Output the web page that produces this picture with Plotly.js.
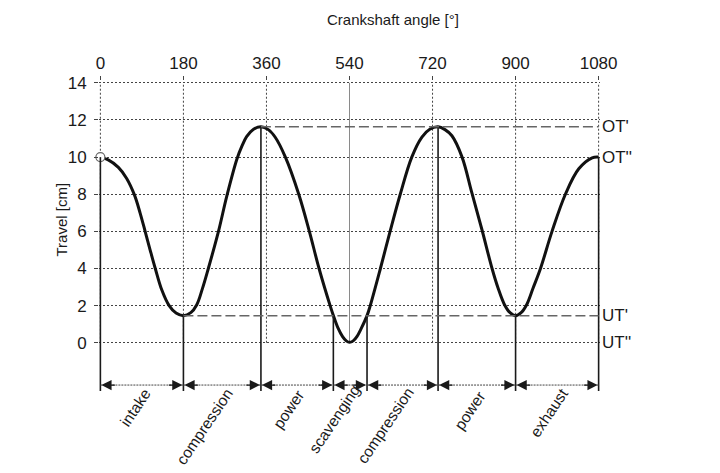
<!DOCTYPE html>
<html><head><meta charset="utf-8">
<script src="https://cdn.plot.ly/plotly-3.0.1.min.js"></script>
<style>html,body{margin:0;padding:0;background:#fff}#chart{width:720px;height:473px}</style>
</head><body><div id="chart"></div>
<script>
// ---- data ----
const angle  = [0, 17, 39, 57, 74, 86, 97, 108, 119, 133, 149, 164, 180, 196, 209, 221, 234, 256, 274, 296, 307, 317, 332, 348,
                364, 379, 401, 430, 453, 474, 498, 505, 515, 525, 533, 540, 548, 556, 566, 578, 585, 607, 628, 650, 675, 697, 714, 732,
                747, 762, 784, 805, 827, 849, 862, 876, 888, 900, 912, 924, 938, 954, 979, 1008, 1037, 1066, 1080];
const travel = [10.0, 9.85, 9.45, 8.85, 7.95, 7.0, 6.0, 4.98, 4.0, 2.85, 2.0, 1.6, 1.46, 1.62, 2.05, 2.9, 4.0, 6.0, 7.9, 9.9, 10.6, 11.1, 11.5, 11.63,
                11.48, 11.07, 10.0, 8.0, 6.0, 4.0, 2.0, 1.47, 0.8, 0.33, 0.1, 0.02, 0.1, 0.33, 0.8, 1.46, 2.0, 4.0, 6.0, 8.0, 10.0, 11.08, 11.5, 11.63,
                11.48, 11.15, 10.0, 8.1, 6.1, 4.0, 2.95, 2.05, 1.62, 1.46, 1.62, 2.05, 2.95, 4.0, 6.0, 8.0, 9.37, 9.96, 10.0];
const xTickVals = [0, 180, 360, 540, 720, 900, 1080];
const yTickVals = [0, 2, 4, 6, 8, 10, 12, 14];
const phaseBounds = [0, 180, 348, 505, 578, 732, 900, 1080];
const boundTop    = [10, 1.46, 11.63, 1.46, 1.46, 11.63, 1.46, 10];
const phaseNames  = ['intake', 'compression', 'power', 'scavenging', 'compression', 'power', 'exhaust'];
const levelValues = [11.63, 10, 1.46, 0];
const levelNames  = ["OT'", "OT''", "UT'", "UT''"];
const levelDashFrom = [348, null, 180, null];
const xTitle = 'Crankshaft angle [°]';
const yTitle = 'Travel [cm]';

// ---- layout / styling ----
const FONT = 'Liberation Sans, Arial, Helvetica, sans-serif';
const INK = '#1a1a1a';
const Y_BOTTOM = -2.6, Y_ARROW = -2.28;
const labelX = [75, 225, 407, 506, 617, 800, 972];
const labelShift = [-16, -35, -18, -28, -34, -19, -21];

const shapes = [];
xTickVals.forEach(v => {
  shapes.push({type:'line', xref:'x', yref:'y', x0:v, x1:v, y0:0, y1:14,
    line: v === 540 ? {color:'#8a8a8a', width:1} : {color:'#444', width:1, dash:'2px,2px'}, layer:'below'});
});
phaseBounds.forEach((b, i) => {
  shapes.push({type:'line', xref:'x', yref:'y', x0:b, x1:b, y0:Y_BOTTOM, y1:boundTop[i],
    line:{color:INK, width:1.6}});
});
levelValues.forEach((v, i) => {
  if (levelDashFrom[i] !== null) {
    shapes.push({type:'line', xref:'x', yref:'y', x0:levelDashFrom[i], x1:1080, y0:v, y1:v,
      line:{color:'#666', width:1.5, dash:'10px,4px'}});
  }
});
for (let i = 0; i < phaseNames.length; i++) {
  shapes.push({type:'line', xref:'x', yref:'y', x0:phaseBounds[i], x1:phaseBounds[i+1], y0:Y_ARROW, y1:Y_ARROW,
    line:{color:'#444', width:1, dash:'2px,1px'}});
}

const annotations = [];
for (let i = 0; i < phaseNames.length; i++) {
  annotations.push({x:phaseBounds[i], y:Y_ARROW, xref:'x', yref:'y', text:'', showarrow:true,
    ax:16, ay:0, arrowhead:2, arrowsize:1.7, arrowwidth:1.2, arrowcolor:INK, standoff:1});
  annotations.push({x:phaseBounds[i+1], y:Y_ARROW, xref:'x', yref:'y', text:'', showarrow:true,
    ax:-16, ay:0, arrowhead:2, arrowsize:1.7, arrowwidth:1.2, arrowcolor:INK, standoff:1});
  annotations.push({x:labelX[i], y:0, xref:'x', yref:'paper', yshift:labelShift[i], text:phaseNames[i],
    showarrow:false, textangle:-56, xanchor:'center', yanchor:'middle', font:{family:FONT, size:15.5, color:INK}});
}
levelValues.forEach((v, i) => {
  annotations.push({x:1, y:v, xref:'paper', yref:'y', text:levelNames[i], showarrow:false,
    xanchor:'left', yanchor:'middle', xshift:0, font:{family:FONT, size:17, color:INK}});
});
annotations.push({x:0.587, y:1.197, xref:'paper', yref:'paper', text:xTitle, showarrow:false,
  xanchor:'center', yanchor:'middle', font:{family:FONT, size:15, color:INK}});
annotations.push({x:-0.0745, y:0.552, xref:'paper', yref:'paper', text:yTitle, showarrow:false, textangle:-90,
  xanchor:'center', yanchor:'middle', font:{family:FONT, size:15, color:INK}});

const traces = [
  {x:angle, y:travel, type:'scatter', mode:'lines', line:{color:'#111', width:3, shape:'spline', smoothing:1},
   hoverinfo:'skip'},
  {x:[angle[0]], y:[travel[0]], type:'scatter', mode:'markers', cliponaxis:false,
   marker:{symbol:'circle', size:9, color:'#fff', line:{color:'#666', width:1.2}}, hoverinfo:'skip'}
];

const layout = {
  width:720, height:473, showlegend:false,
  paper_bgcolor:'#fff', plot_bgcolor:'#fff',
  margin:{l:99, r:120, t:81, b:82},
  font:{family:FONT, size:17, color:INK},
  xaxis:{side:'top', range:[-3, 1083], tickvals:xTickVals, ticktext:xTickVals.map(String), ticks:'outside', ticklen:4,
    tickcolor:'#444', tickwidth:1, showgrid:false, zeroline:false, showline:false, tickfont:{family:FONT, size:17, color:INK},
    fixedrange:true},
  yaxis:{range:[Y_BOTTOM, 14.1], tickvals:yTickVals, ticktext:yTickVals.map(String), ticks:'outside', ticklen:4,
    tickcolor:'#444', tickwidth:1, showgrid:true, gridcolor:'#444', gridwidth:1, griddash:'2px,2px',
    zeroline:false, showline:false, tickfont:{family:FONT, size:17, color:INK}, ticklabelstandoff:4, fixedrange:true},
  shapes:shapes, annotations:annotations
};
Plotly.newPlot('chart', traces, layout, {staticPlot:true, displayModeBar:false});
</script></body></html>
